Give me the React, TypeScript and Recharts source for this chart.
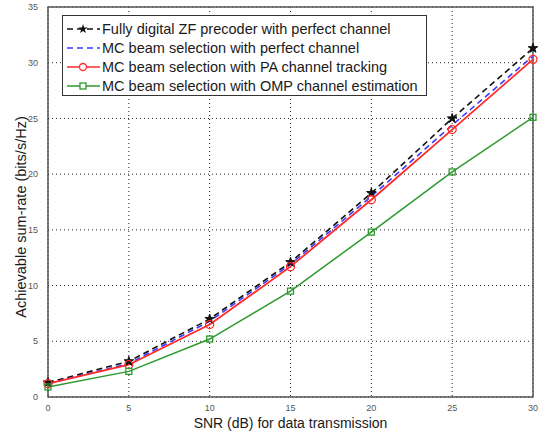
import { LineChart, Line, XAxis, YAxis, CartesianGrid, ReferenceArea, Symbols } from "recharts";

const snr = [0, 5, 10, 15, 20, 25, 30];
const fullyDigital = [1.3, 3.2, 7.0, 12.1, 18.3, 25.0, 31.3];
const mcPerfect = [1.2, 3.0, 6.8, 11.9, 18.0, 24.4, 30.6];
const mcPA = [1.2, 2.9, 6.5, 11.7, 17.7, 24.0, 30.3];
const mcOMP = [0.9, 2.3, 5.2, 9.5, 14.8, 20.2, 25.1];
const xTicks = [0, 5, 10, 15, 20, 25, 30];
const yTicks = [0, 5, 10, 15, 20, 25, 30, 35];

const labels = {
  fd: "Fully digital ZF precoder with perfect channel",
  mcp: "MC beam selection with perfect channel",
  pa: "MC beam selection with PA channel tracking",
  omp: "MC beam selection with OMP channel estimation",
};

const data = snr.map((s, i) => ({
  snr: s,
  fd: fullyDigital[i],
  mcp: mcPerfect[i],
  pa: mcPA[i],
  omp: mcOMP[i],
}));

const font = "'Liberation Sans', Arial, sans-serif";

const StarDot = (p: any) => (
  <Symbols cx={p.cx} cy={p.cy} type="star" size={28} fill="#111" stroke="#111" />
);
const CircleDot = (p: any) => (
  <circle cx={p.cx} cy={p.cy} r={4} fill="none" stroke="#ff2a2a" strokeWidth={1.3} />
);
const SquareDot = (p: any) => (
  <rect x={p.cx - 3} y={p.cy - 3} width={6} height={6} fill="none" stroke="#2e9a2e" strokeWidth={1.3} />
);

const legendRows = [
  { key: "fd", color: "#111", dash: "6 4", marker: "star" },
  { key: "mcp", color: "#3b3bff", dash: "6 4", marker: "none" },
  { key: "pa", color: "#ff2a2a", dash: undefined, marker: "circle" },
  { key: "omp", color: "#2e9a2e", dash: undefined, marker: "square" },
];

function LegendBox() {
  return (
    <div
      style={{
        position: "absolute",
        left: 62,
        top: 15,
        boxSizing: "border-box",
        height: 81,
        border: "1.5px solid #333",
        background: "#fff",
        padding: "3px 8px 0 3px",
        fontFamily: font,
        fontSize: 14.5,
        color: "#1a1a1a",
      }}
    >
      {legendRows.map((r) => (
        <div key={r.key} style={{ display: "flex", alignItems: "center", height: 19 }}>
          <svg width={35} height={12} style={{ marginRight: 1 }}>
            <line x1={1} y1={6} x2={34} y2={6} stroke={r.color} strokeWidth={1.6} strokeDasharray={r.dash} />
            {r.marker === "star" && <Symbols cx={17} cy={6} type="star" size={28} fill="#111" />}
            {r.marker === "circle" && <circle cx={17} cy={6} r={3.5} fill="#fff" stroke={r.color} strokeWidth={1.3} />}
            {r.marker === "square" && <rect x={14} y={3} width={6} height={6} fill="#fff" stroke={r.color} strokeWidth={1.3} />}
          </svg>
          <span style={{ whiteSpace: "nowrap" }}>{(labels as any)[r.key]}</span>
        </div>
      ))}
    </div>
  );
}

const YLabel = () => (
  <text
    x={21}
    y={217}
    transform="rotate(-90 21 217)"
    textAnchor="middle"
    dominantBaseline="central"
    style={{ fontSize: 14.5, fill: "#1a1a1a", fontFamily: font }}
  >
    Achievable sum-rate (bits/s/Hz)
  </text>
);

export default function App() {
  return (
    <div style={{ position: "absolute", left: 0, top: 0, width: 541, height: 432, background: "#fff" }}>
      <LineChart width={541} height={432} data={data} margin={{ top: 7, right: 8, bottom: 0, left: 0 }}>
        <CartesianGrid stroke="#222" strokeDasharray="1 3" strokeWidth={1} />
        <XAxis
          dataKey="snr"
          type="number"
          domain={[0, 30]}
          ticks={xTicks}
          height={35}
          axisLine={false}
          tickLine={false}
          tick={{ fontSize: 9, fill: "#555", fontFamily: font }}
          tickMargin={2}
          label={{ value: "SNR (dB) for data transmission", position: "insideBottom", offset: 4, style: { fontSize: 14, fill: "#1a1a1a", fontFamily: font } }}
        />
        <YAxis
          type="number"
          domain={[0, 35]}
          ticks={yTicks}
          width={48}
          axisLine={false}
          tickLine={false}
          tick={{ fontSize: 9, fill: "#555", fontFamily: font }}
          tickMargin={4}
          label={<YLabel />}
        />
        <ReferenceArea x1={0} x2={30} y1={0} y2={35} fill="none" stroke="#555" strokeWidth={1.5} ifOverflow="visible" />
        <Line dataKey="fd" name={labels.fd} stroke="#111" strokeWidth={1.6} strokeDasharray="6 4" dot={<StarDot />} isAnimationActive={false} />
        <Line dataKey="mcp" name={labels.mcp} stroke="#3b3bff" strokeWidth={1.6} strokeDasharray="6 4" dot={false} isAnimationActive={false} />
        <Line dataKey="pa" name={labels.pa} stroke="#ff2a2a" strokeWidth={1.8} dot={<CircleDot />} isAnimationActive={false} />
        <Line dataKey="omp" name={labels.omp} stroke="#2e9a2e" strokeWidth={1.5} dot={<SquareDot />} isAnimationActive={false} />
      </LineChart>
      <LegendBox />
    </div>
  );
}
